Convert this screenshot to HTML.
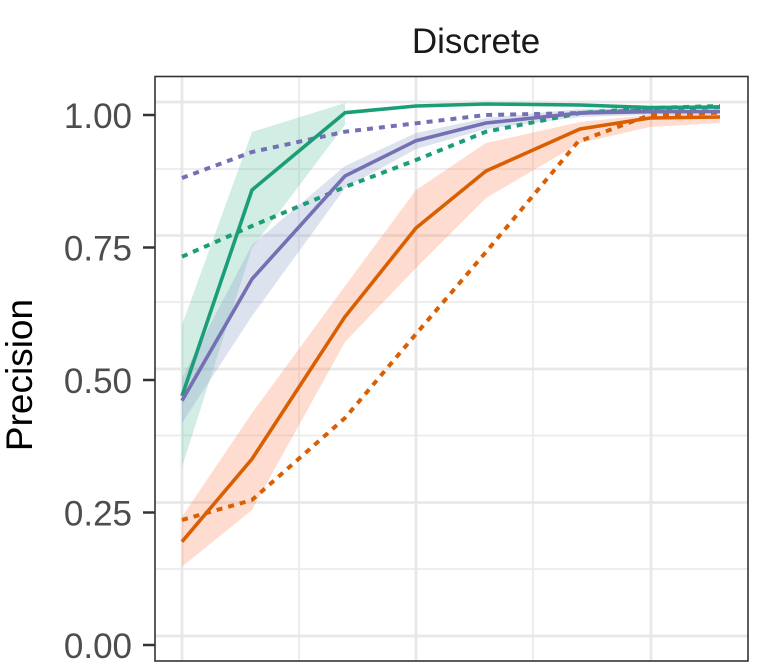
<!DOCTYPE html>
<html><head><meta charset="utf-8"><style>
html,body{margin:0;padding:0;background:#fff;}
svg{display:block;}
text{font-family:"Liberation Sans",Arial,sans-serif;}
</style></head><body>
<svg width="757" height="672" viewBox="0 0 757 672" xmlns="http://www.w3.org/2000/svg">
<rect width="757" height="672" fill="#fff"/>
<defs><clipPath id="pc"><rect x="155" y="76" width="593" height="585"/></clipPath></defs>
<g clip-path="url(#pc)">
<!-- minor grid -->
<g stroke="#ebebeb" stroke-width="1.8">
<line x1="155" x2="748" y1="169" y2="169"/>
<line x1="155" x2="748" y1="302" y2="302"/>
<line x1="155" x2="748" y1="435.5" y2="435.5"/>
<line x1="155" x2="748" y1="569" y2="569"/>
<line x1="299" x2="299" y1="76" y2="661"/>
<line x1="533" x2="533" y1="76" y2="661"/>
</g>
<!-- major grid -->
<g stroke="#e8e8e8" stroke-width="2.8">
<line x1="155" x2="748" y1="102" y2="102"/>
<line x1="155" x2="748" y1="235.5" y2="235.5"/>
<line x1="155" x2="748" y1="369" y2="369"/>
<line x1="155" x2="748" y1="502.5" y2="502.5"/>
<line x1="155" x2="748" y1="636" y2="636"/>
<line x1="182" x2="182" y1="76" y2="661"/>
<line x1="416" x2="416" y1="76" y2="661"/>
<line x1="651" x2="651" y1="76" y2="661"/>
</g>
<!-- ribbons -->
<polygon fill="#66c2a5" fill-opacity="0.3" points="182,325 252,132 345,103 345,125 252,248 182,467"/>
<polygon fill="#8da0cb" fill-opacity="0.3" points="182,378 252,245 345,166 416,133 486,118 580,109 650,108 720,108 720,114 650,115 580,117 486,129 416,149 345,188 252,316 182,423"/>
<polygon fill="#fc8d62" fill-opacity="0.3" points="182,516.7 252,413 345,286 416,190 486,143 580,122 650,115 720,113 720,123 650,127 580,143 486,198 416,268 345,342 252,510 182,566.7"/>
<!-- lines -->
<g fill="none" stroke-linejoin="round">
<polyline stroke="#1b9e77" stroke-width="4" stroke-dasharray="6 6" points="182,256.7 252,226 345,187 416,160 486,131.7 580,113 650,108 720,106"/>
<polyline stroke="#7570b3" stroke-width="4" stroke-dasharray="6 6" points="182,178 252,152 345,131.7 416,123.3 486,115 580,113 650,110 720,107"/>
<polyline stroke="#d95f02" stroke-width="4" stroke-dasharray="6 6" points="182,520 252,500 345,418 416,334 486,252 578,141.7 650,115 720,112.7"/>
<polyline stroke="#1b9e77" stroke-width="3.6" points="182,396 252,190 345,112.7 416,106 486,104 580,105 650,107.5 720,107"/>
<polyline stroke="#7570b3" stroke-width="3.6" points="182,400.7 252,279 345,176 416,140.7 486,123 580,113 650,111.7 720,111.5"/>
<polyline stroke="#d95f02" stroke-width="3.6" points="182,541.7 252,459 345,316.7 416,228 486,171 580,129 650,118 720,117"/>
</g>
</g>
<!-- panel border -->
<rect x="155" y="76.5" width="593" height="584.5" fill="none" stroke="#333" stroke-width="1.6"/>
<!-- ticks -->
<g stroke="#333" stroke-width="2.5">
<line x1="143" x2="155" y1="115" y2="115"/>
<line x1="143" x2="155" y1="247.5" y2="247.5"/>
<line x1="143" x2="155" y1="380" y2="380"/>
<line x1="143" x2="155" y1="512.5" y2="512.5"/>
<line x1="143" x2="155" y1="645" y2="645"/>
</g>
<g fill="#4d4d4d" font-size="35" text-anchor="end">
<text x="132" y="128">1.00</text>
<text x="132" y="260.5">0.75</text>
<text x="132" y="393">0.50</text>
<text x="132" y="525.5">0.25</text>
<text x="132" y="658">0.00</text>
</g>
<text transform="translate(32,375) rotate(-90)" text-anchor="middle" font-size="37" fill="#000">Precision</text>
<text x="476" y="53" text-anchor="middle" font-size="35" fill="#1a1a1a">Discrete</text>
</svg>
</body></html>
